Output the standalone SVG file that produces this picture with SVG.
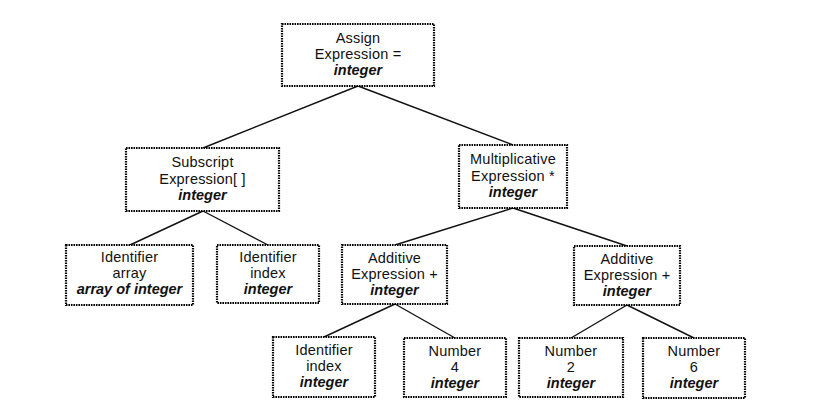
<svg xmlns="http://www.w3.org/2000/svg" width="816" height="405" viewBox="0 0 816 405">
<style>
.box{fill:#fff;stroke:#000;stroke-width:2.2;stroke-dasharray:1.6 0.9}
.t{font-family:"Liberation Sans",Arial,sans-serif;font-size:14.5px;letter-spacing:0.2px;fill:#111;text-anchor:middle}
.b{font-weight:bold;font-style:italic;letter-spacing:0}
.c line{stroke:#111;stroke-width:1.4}
</style>
<rect width="816" height="405" fill="#fff"/>
<g class="c" id="connectors">
<line x1="358" y1="86" x2="203" y2="148"/>
<line x1="358" y1="86" x2="513" y2="145"/>
<line x1="203" y1="211" x2="130" y2="245"/>
<line x1="203" y1="211" x2="268" y2="245"/>
<line x1="513" y1="208" x2="395" y2="245"/>
<line x1="513" y1="208" x2="627" y2="246"/>
<line x1="395" y1="304" x2="324" y2="337"/>
<line x1="395" y1="304" x2="455" y2="338"/>
<line x1="627" y1="305" x2="571" y2="338"/>
<line x1="627" y1="305" x2="694" y2="338"/>
</g>
<g id="assign">
<rect class="box" x="282" y="24" width="152" height="62"/>
<text class="t" x="358" y="43">Assign</text>
<text class="t" x="358" y="59">Expression =</text>
<text class="t b" x="358" y="75">integer</text>
</g>
<g id="subscript">
<rect class="box" x="126" y="148" width="153" height="63"/>
<text class="t" x="202.5" y="167">Subscript</text>
<text class="t" x="202.5" y="184">Expression[ ]</text>
<text class="t b" x="202.5" y="200">integer</text>
</g>
<g id="multiplicative">
<rect class="box" x="459" y="145" width="108" height="63"/>
<text class="t" x="513" y="164">Multiplicative</text>
<text class="t" x="513" y="181">Expression *</text>
<text class="t b" x="513" y="197">integer</text>
</g>
<g id="ident-array">
<rect class="box" x="66" y="245" width="127" height="60"/>
<text class="t" x="129.5" y="262">Identifier</text>
<text class="t" x="129.5" y="278">array</text>
<text class="t b" x="129.5" y="294">array of integer</text>
</g>
<g id="ident-index1">
<rect class="box" x="217" y="245" width="102" height="58"/>
<text class="t" x="268" y="262">Identifier</text>
<text class="t" x="268" y="278">index</text>
<text class="t b" x="268" y="294">integer</text>
</g>
<g id="additive1">
<rect class="box" x="342" y="245" width="105" height="59"/>
<text class="t" x="394.5" y="263">Additive</text>
<text class="t" x="394.5" y="279">Expression +</text>
<text class="t b" x="394.5" y="295">integer</text>
</g>
<g id="additive2">
<rect class="box" x="574" y="246" width="106" height="59"/>
<text class="t" x="627" y="264">Additive</text>
<text class="t" x="627" y="280">Expression +</text>
<text class="t b" x="627" y="296">integer</text>
</g>
<g id="ident-index2">
<rect class="box" x="273" y="337" width="102" height="60"/>
<text class="t" x="324" y="355">Identifier</text>
<text class="t" x="324" y="371">index</text>
<text class="t b" x="324" y="387">integer</text>
</g>
<g id="number4">
<rect class="box" x="404" y="338" width="102" height="59"/>
<text class="t" x="455" y="356">Number</text>
<text class="t" x="455" y="372">4</text>
<text class="t b" x="455" y="388">integer</text>
</g>
<g id="number2">
<rect class="box" x="519" y="338" width="104" height="59"/>
<text class="t" x="571" y="356">Number</text>
<text class="t" x="571" y="372">2</text>
<text class="t b" x="571" y="388">integer</text>
</g>
<g id="number6">
<rect class="box" x="643" y="338" width="102" height="60"/>
<text class="t" x="694" y="356">Number</text>
<text class="t" x="694" y="372">6</text>
<text class="t b" x="694" y="388">integer</text>
</g>
</svg>
